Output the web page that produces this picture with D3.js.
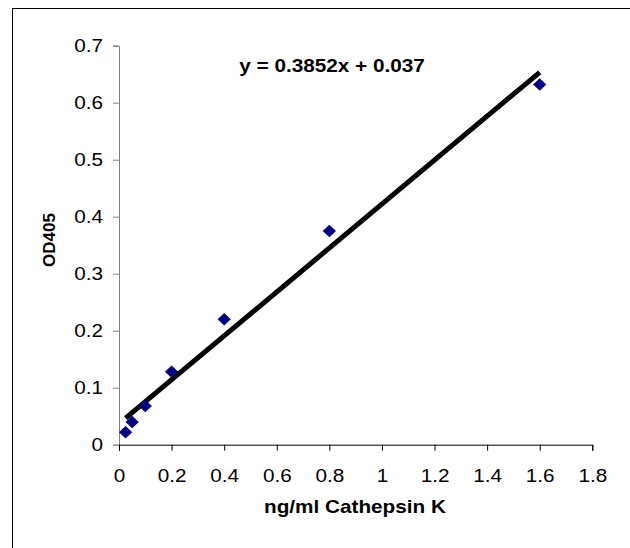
<!DOCTYPE html>
<html>
<head>
<meta charset="utf-8">
<script src="https://cdn.jsdelivr.net/npm/d3@7"></script>
<style>
	body { margin: 0; background: #fff; }
	svg text { font-family: "Liberation Sans", Arial, sans-serif; }
</style>
</head>
<body>
<div id="chart"></div>
<script>
const conc = [0.025, 0.05, 0.1, 0.2, 0.4, 0.8, 1.6];
const od = [0.022, 0.04, 0.068, 0.128, 0.22, 0.375, 0.632];
const xTicks = [0, 0.2, 0.4, 0.6, 0.8, 1, 1.2, 1.4, 1.6, 1.8];
const yTicks = [0, 0.1, 0.2, 0.3, 0.4, 0.5, 0.6, 0.7];
const slope = 0.3852;
const intercept = 0.037;

const width = 630, height = 548;
const margin = { top: 45.7, right: 37.7, bottom: 103.3, left: 119 };
const fontSize = 18.5;
const stretch = 1.12; // the picture's text is a bit wider than it is tall

const svg = d3.select("#chart")
	.append("svg")
	.attr("width", width)
	.attr("height", height);

// outer frame (only top/left edges visible in the picture)
svg.append("rect")
	.attr("x", 12.5).attr("y", 8.5)
	.attr("width", 640).attr("height", 560)
	.attr("fill", "none").attr("stroke", "#000").attr("stroke-width", 1);

const x = d3.scaleLinear().domain([0, 1.8]).range([margin.left, width - margin.right]);
const y = d3.scaleLinear().domain([0, 0.7]).range([height - margin.bottom, margin.top]);

const fmt = d => d3.format("")(+d.toFixed(1));

const xAxis = svg.append("g")
	.attr("transform", `translate(0,${y(0)})`)
	.call(d3.axisBottom(x).tickValues(xTicks).tickSize(6).tickPadding(18).tickFormat(fmt));
xAxis.select(".domain").attr("stroke", "#000");
xAxis.selectAll(".tick line").attr("stroke", "#000");

const yAxis = svg.append("g")
	.attr("transform", `translate(${x(0)},0)`)
	.call(d3.axisLeft(y).tickValues(yTicks).tickSize(6).tickPadding(10).tickFormat(fmt));
yAxis.select(".domain").attr("stroke", "#808080");
yAxis.selectAll(".tick line").attr("stroke", "#808080");
xAxis.raise();

svg.selectAll(".tick text")
	.attr("font-size", fontSize)
	.attr("fill", "#000");

// trendline
const x0 = d3.min(conc), x1 = d3.max(conc);
svg.append("line")
	.attr("x1", x(x0)).attr("y1", y(slope * x0 + intercept))
	.attr("x2", x(x1)).attr("y2", y(slope * x1 + intercept))
	.attr("stroke", "#000").attr("stroke-width", 5);

// markers
svg.append("g")
	.selectAll("path")
	.data(conc)
	.enter()
	.append("path")
	.attr("d", d3.symbol().type(d3.symbolDiamond2).size(100))
	.attr("transform", (d, i) => `translate(${x(d)},${y(od[i])}) scale(1.06,1)`)
	.attr("fill", "#000080");

svg.append("text")
	.classed("wide", true)
	.attr("x", 332).attr("y", 72)
	.attr("text-anchor", "middle")
	.attr("font-size", fontSize).attr("font-weight", "bold")
	.text(`y = ${slope}x + ${intercept}`);

svg.append("text")
	.classed("wide", true)
	.attr("x", 355).attr("y", 513)
	.attr("text-anchor", "middle")
	.attr("font-size", fontSize).attr("font-weight", "bold")
	.text("ng/ml Cathepsin K");

svg.append("text")
	.attr("transform", `translate(55,240) rotate(-90)`)
	.attr("text-anchor", "middle")
	.attr("font-size", 17).attr("font-weight", "bold")
	.text("OD405");

// widen horizontal texts
svg.selectAll(".tick text, text.wide").each(function () {
	const w = this.getComputedTextLength();
	d3.select(this)
		.attr("textLength", w * stretch)
		.attr("lengthAdjust", "spacingAndGlyphs");
});
</script>
</body>
</html>
